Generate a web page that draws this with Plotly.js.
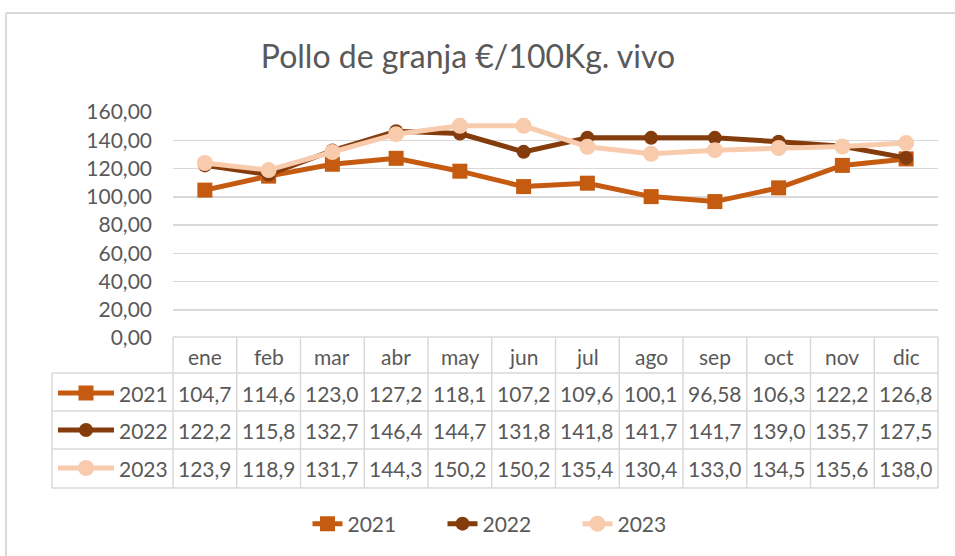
<!DOCTYPE html>
<html>
<head>
<meta charset="utf-8">
<script src="https://cdn.plot.ly/plotly-3.0.1.min.js"></script>
<style>html,body{margin:0;padding:0;background:#fff;}#chart{width:955px;height:556px;}</style>
</head>
<body>
<div id="chart"></div>
<script>
// ---- data ----
const months = ['ene','feb','mar','abr','may','jun','jul','ago','sep','oct','nov','dic'];
const seriesNames = ['2021','2022','2023'];
const v2021 = [104.7,114.6,123.0,127.2,118.1,107.2,109.6,100.1,96.58,106.3,122.2,126.8];
const v2022 = [122.2,115.8,132.7,146.4,144.7,131.8,141.8,141.7,141.7,139.0,135.7,127.5];
const v2023 = [123.9,118.9,131.7,144.3,150.2,150.2,135.4,130.4,133.0,134.5,135.6,138.0];
const titleText = 'Pollo de granja €/100Kg. vivo';

// ---- styles ----
const values = [v2021, v2022, v2023];
const colors = ['#C55A11','#843C0C','#F8CBAD'];
const symbols = ['square','circle','circle'];
const msizes = [15,14,16];
const txt = '#595959';
const grid = '#D9D9D9';
const FONT = 'Lato, "Open Sans", sans-serif';
const FS = 21;

// pixel geometry
const W = 955, H = 556;
const L = 173, R = 938, T = 112, B = 338;
const px = p => (p - L) / (R - L);
const py = p => (B - p) / (B - T);

const traces = values.map((v, k) => ({
  type: 'scatter', mode: 'lines+markers', name: seriesNames[k],
  x: months, y: v,
  line: {color: colors[k], width: 5},
  marker: {color: colors[k], symbol: symbols[k], size: msizes[k]},
  cliponaxis: false
}));

const fmt = n => n.toPrecision(4).replace('.', ',');

const rowCenters = [393, 430, 468];
const rowLines = [373, 411, 449, 488];
const shapes = [];
const annotations = [];

// outer chart border (top and left)
shapes.push({type:'line', xref:'paper', yref:'paper', x0:px(6), x1:px(W+5), y0:py(13), y1:py(13), line:{color:grid, width:2}});
shapes.push({type:'line', xref:'paper', yref:'paper', x0:px(6), x1:px(6), y0:py(13), y1:py(H+5), line:{color:grid, width:2}});

// table horizontal lines
shapes.push({type:'line', xref:'paper', yref:'paper', x0:0, x1:1, y0:py(337), y1:py(337), line:{color:grid, width:1.5}});
rowLines.forEach(y => shapes.push({type:'line', xref:'paper', yref:'paper', x0:px(52), x1:1, y0:py(y), y1:py(y), line:{color:grid, width:1.5}}));
// table vertical lines
shapes.push({type:'line', xref:'paper', yref:'paper', x0:px(52), x1:px(52), y0:py(373), y1:py(488), line:{color:grid, width:1.5}});
for (let i = 0; i <= months.length; i++) {
  shapes.push({type:'line', xref:'paper', yref:'paper', x0:i/months.length, x1:i/months.length, y0:py(337), y1:py(488), line:{color:grid, width:1.5}});
}

// header labels
months.forEach(m => annotations.push({xref:'x', yref:'paper', x:m, y:py(356), text:m, showarrow:false, xanchor:'center', yanchor:'middle', font:{family:FONT, size:FS, color:txt}}));

// rows
values.forEach((v, k) => {
  const yc = rowCenters[k];
  // legend key in first column
  shapes.push({type:'line', xref:'paper', yref:'paper', x0:px(58), x1:px(114), y0:py(yc), y1:py(yc), line:{color:colors[k], width:5}});
  const s = msizes[k] / 2;
  shapes.push({type: symbols[k] === 'square' ? 'rect' : 'circle', xref:'paper', yref:'paper',
    x0:px(86 - s), x1:px(86 + s), y0:py(yc - s), y1:py(yc + s), fillcolor:colors[k], line:{width:0}});
  annotations.push({xref:'paper', yref:'paper', x:px(117), y:py(yc), text:seriesNames[k], showarrow:false, xanchor:'left', yanchor:'middle', font:{family:FONT, size:FS, color:txt}});
  v.forEach((val, i) => annotations.push({xref:'x', yref:'paper', x:months[i], y:py(yc), text:fmt(val), showarrow:false, xanchor:'center', yanchor:'middle', font:{family:FONT, size:FS, color:txt}}));
});

const layout = {
  width: W, height: H,
  margin: {l: L, r: W - R, t: T, b: H - B, pad: 0},
  paper_bgcolor: '#fff', plot_bgcolor: '#fff',
  separators: ',.',
  title: {text: titleText, x: 468 / W, xref: 'container', xanchor: 'center', y: 1 - 57 / H, yref: 'container', yanchor: 'middle',
    font: {family: FONT, size: 32, color: txt}},
  xaxis: {type: 'category', range: [-0.5, 11.5], showticklabels: false, showgrid: false, zeroline: false, showline: false, ticks: ''},
  yaxis: {range: [0, 160], dtick: 20, tickformat: '.2f', gridcolor: grid, gridwidth: 1.5, zeroline: false, showline: false, ticks: '',
    ticklabelstandoff: 20, tickfont: {family: FONT, size: FS, color: txt}},
  showlegend: true,
  legend: {orientation: 'h', x: px(510), xanchor: 'center', y: py(524), yanchor: 'middle', font: {family: FONT, size: FS, color: txt},
    bgcolor: 'rgba(0,0,0,0)', entrywidth: 90, entrywidthmode: 'pixels', tracegroupgap: 0},
  shapes: shapes,
  annotations: annotations
};

Plotly.newPlot('chart', traces, layout, {staticPlot: true, displayModeBar: false});
</script>
</body>
</html>
